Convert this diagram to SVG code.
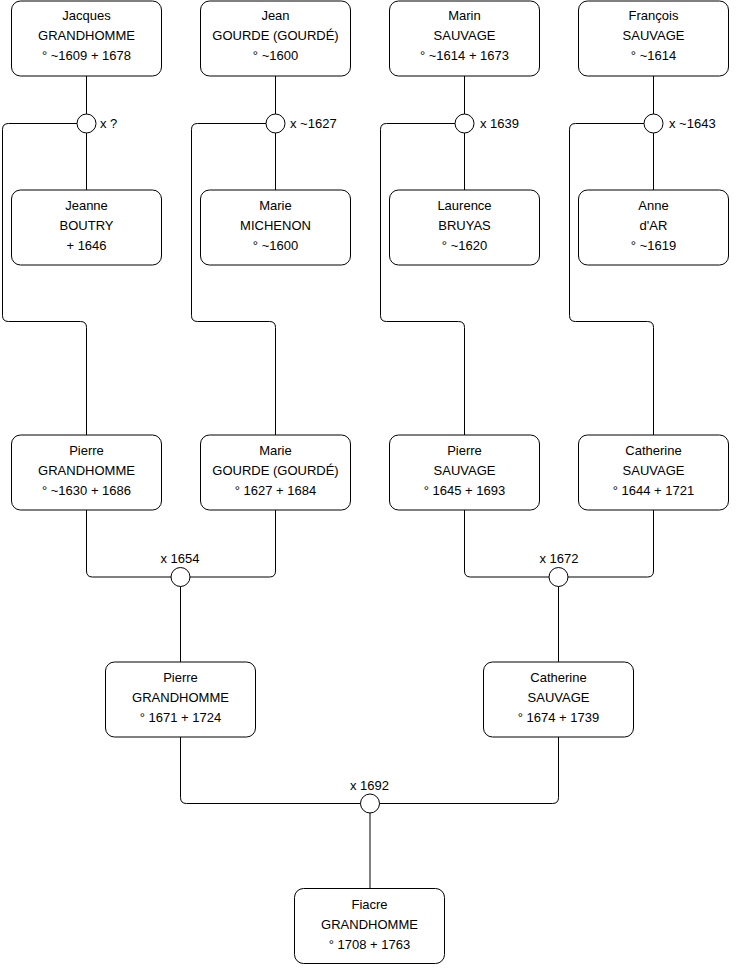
<svg xmlns="http://www.w3.org/2000/svg" width="740" height="975" viewBox="0 0 740 975">
<style>
.box{fill:#fff;stroke:#000;stroke-width:1}
.j{fill:#fff;stroke:#000;stroke-width:1}
.c{fill:none;stroke:#000;stroke-width:1}
text{font-family:"Liberation Sans",Arial,sans-serif;font-size:13px;fill:#000}
.m{text-anchor:middle}
</style>
<rect width="740" height="975" fill="#fff"/>
<g id="connectors">
<path class="c" d="M86.5 76V190"/>
<path class="c" d="M275.5 76V190"/>
<path class="c" d="M464.5 76V190"/>
<path class="c" d="M653.5 76V190"/>
<path class="c" d="M77 123.5H8.5Q2.5 123.5 2.5 129.5V315.5Q2.5 321.5 8.5 321.5H80.5Q86.5 321.5 86.5 327.5V435"/>
<path class="c" d="M266 123.5H197.5Q191.5 123.5 191.5 129.5V315.5Q191.5 321.5 197.5 321.5H269.5Q275.5 321.5 275.5 327.5V435"/>
<path class="c" d="M455 123.5H386.5Q380.5 123.5 380.5 129.5V315.5Q380.5 321.5 386.5 321.5H458.5Q464.5 321.5 464.5 327.5V435"/>
<path class="c" d="M644 123.5H575.5Q569.5 123.5 569.5 129.5V315.5Q569.5 321.5 575.5 321.5H647.5Q653.5 321.5 653.5 327.5V435"/>
<path class="c" d="M86.5 510V571Q86.5 577 92.5 577H269.5Q275.5 577 275.5 571V510"/>
<path class="c" d="M180.5 577V662"/>
<path class="c" d="M464.5 510V571Q464.5 577 470.5 577H647.5Q653.5 577 653.5 571V510"/>
<path class="c" d="M558.5 577V662"/>
<path class="c" d="M180.5 737V797.5Q180.5 803.5 186.5 803.5H552.5Q558.5 803.5 558.5 797.5V737"/>
<path class="c" d="M370 803.5V888.5"/>
</g>
<g id="m1"><circle class="j" cx="86.5" cy="123.5" r="9.5"/><text x="100" y="128">x ?</text></g>
<g id="m2"><circle class="j" cx="275.5" cy="123.5" r="9.5"/><text x="290" y="128">x ~1627</text></g>
<g id="m3"><circle class="j" cx="464.5" cy="123.5" r="9.5"/><text x="480" y="128">x 1639</text></g>
<g id="m4"><circle class="j" cx="653.5" cy="123.5" r="9.5"/><text x="669" y="128">x ~1643</text></g>
<g id="m5"><circle class="j" cx="180.5" cy="577" r="9.5"/><text class="m" x="180" y="563">x 1654</text></g>
<g id="m6"><circle class="j" cx="558.5" cy="577" r="9.5"/><text class="m" x="559" y="563">x 1672</text></g>
<g id="m7"><circle class="j" cx="370" cy="803.5" r="9.5"/><text class="m" x="369.5" y="790">x 1692</text></g>

<g id="jacques"><rect class="box" x="11.5" y="1" width="150" height="75" rx="9"/><text class="m" x="86.5" y="20">Jacques</text><text class="m" x="86.5" y="40">GRANDHOMME</text><text class="m" x="86.5" y="60">° ~1609 + 1678</text></g>
<g id="jean"><rect class="box" x="200.5" y="1" width="150" height="75" rx="9"/><text class="m" x="275.5" y="20">Jean</text><text class="m" x="275.5" y="40">GOURDE (GOURDÉ)</text><text class="m" x="275.5" y="60">° ~1600</text></g>
<g id="marin"><rect class="box" x="389.5" y="1" width="150" height="75" rx="9"/><text class="m" x="464.5" y="20">Marin</text><text class="m" x="464.5" y="40">SAUVAGE</text><text class="m" x="464.5" y="60">° ~1614 + 1673</text></g>
<g id="francois"><rect class="box" x="578.5" y="1" width="150" height="75" rx="9"/><text class="m" x="653.5" y="20">François</text><text class="m" x="653.5" y="40">SAUVAGE</text><text class="m" x="653.5" y="60">° ~1614</text></g>

<g id="jeanne"><rect class="box" x="11.5" y="190" width="150" height="75" rx="9"/><text class="m" x="86.5" y="210">Jeanne</text><text class="m" x="86.5" y="230">BOUTRY</text><text class="m" x="86.5" y="250">+ 1646</text></g>
<g id="marie1"><rect class="box" x="200.5" y="190" width="150" height="75" rx="9"/><text class="m" x="275.5" y="210">Marie</text><text class="m" x="275.5" y="230">MICHENON</text><text class="m" x="275.5" y="250">° ~1600</text></g>
<g id="laurence"><rect class="box" x="389.5" y="190" width="150" height="75" rx="9"/><text class="m" x="464.5" y="210">Laurence</text><text class="m" x="464.5" y="230">BRUYAS</text><text class="m" x="464.5" y="250">° ~1620</text></g>
<g id="anne"><rect class="box" x="578.5" y="190" width="150" height="75" rx="9"/><text class="m" x="653.5" y="210">Anne</text><text class="m" x="653.5" y="230">d'AR</text><text class="m" x="653.5" y="250">° ~1619</text></g>

<g id="pierre1"><rect class="box" x="11.5" y="435" width="150" height="75" rx="9"/><text class="m" x="86.5" y="455">Pierre</text><text class="m" x="86.5" y="475">GRANDHOMME</text><text class="m" x="86.5" y="495">° ~1630 + 1686</text></g>
<g id="marie2"><rect class="box" x="200.5" y="435" width="150" height="75" rx="9"/><text class="m" x="275.5" y="455">Marie</text><text class="m" x="275.5" y="475">GOURDE (GOURDÉ)</text><text class="m" x="275.5" y="495">° 1627 + 1684</text></g>
<g id="pierre2"><rect class="box" x="389.5" y="435" width="150" height="75" rx="9"/><text class="m" x="464.5" y="455">Pierre</text><text class="m" x="464.5" y="475">SAUVAGE</text><text class="m" x="464.5" y="495">° 1645 + 1693</text></g>
<g id="catherine1"><rect class="box" x="578.5" y="435" width="150" height="75" rx="9"/><text class="m" x="653.5" y="455">Catherine</text><text class="m" x="653.5" y="475">SAUVAGE</text><text class="m" x="653.5" y="495">° 1644 + 1721</text></g>

<g id="pierre3"><rect class="box" x="105.5" y="662" width="150" height="75" rx="9"/><text class="m" x="180.5" y="682">Pierre</text><text class="m" x="180.5" y="702">GRANDHOMME</text><text class="m" x="180.5" y="722">° 1671 + 1724</text></g>
<g id="catherine2"><rect class="box" x="483.5" y="662" width="150" height="75" rx="9"/><text class="m" x="558.5" y="682">Catherine</text><text class="m" x="558.5" y="702">SAUVAGE</text><text class="m" x="558.5" y="722">° 1674 + 1739</text></g>

<g id="fiacre"><rect class="box" x="294.5" y="888.5" width="150" height="75" rx="9"/><text class="m" x="369.5" y="908.5">Fiacre</text><text class="m" x="369.5" y="928.5">GRANDHOMME</text><text class="m" x="369.5" y="948.5">° 1708 + 1763</text></g>
</svg>
